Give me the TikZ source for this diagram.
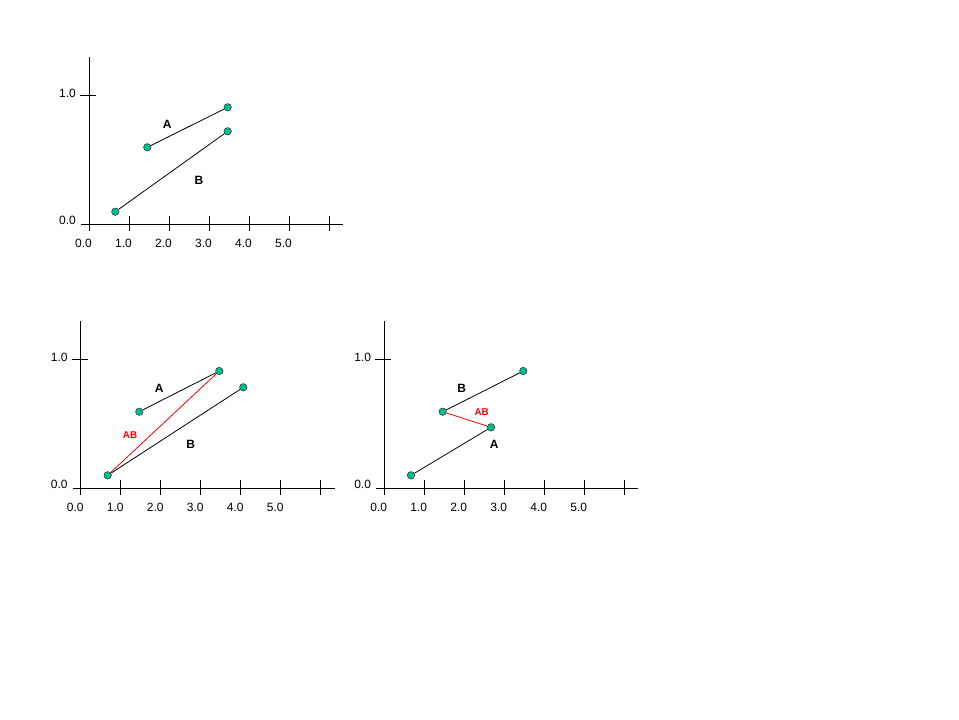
\documentclass[tikz,border=0pt]{standalone}
\usepackage{fontspec}
\setmainfont{Liberation Sans}
\begin{document}
\begin{tikzpicture}[x=0.75pt,y=-0.75pt,
  axis/.style={line width=0.75pt,black},
  tick/.style={line width=0.75pt,black},
  ticklab/.style={font=\fontsize{9}{10}\selectfont,inner sep=0pt},
  dot/.style={circle,draw=black!80,line width=0.4pt,fill=teal2,minimum size=5.6pt,inner sep=0pt},
  seg/.style={line width=0.6pt,black},
  abseg/.style={line width=0.6pt,red},
  lab/.style={font=\fontsize{9}{10}\bfseries\selectfont,inner sep=0pt},
  ablab/.style={font=\fontsize{7.4}{9}\bfseries\selectfont,text=red,inner sep=0pt}]
\definecolor{teal2}{RGB}{0,190,140}
\useasboundingbox (0,0) rectangle (959,719);
\fill[white] (0,0) rectangle (959,719);
% three axis frames
\foreach \ox/\oy/\nm in {89/224/p, 80.7/488.3/q, 384.3/488.3/r}{
  \begin{scope}[shift={(\ox,\oy)}]
    \coordinate (\nm yt) at (0,-167);
    \coordinate (\nm yb) at (0,7);
    \coordinate (\nm xl) at (-8,0);
    \coordinate (\nm xr) at (254,0);
    \draw[axis] (\nm yt) -- (\nm yb);
    \draw[axis] (\nm xl) -- (\nm xr);
    \foreach \k in {1,...,6}{
      \coordinate (\nm t\k a) at (40*\k,-8);
      \coordinate (\nm t\k b) at (40*\k,7);
      \draw[tick] (\nm t\k a) -- (\nm t\k b);
    }
    \coordinate (\nm ya) at (-9,-128.7);
    \coordinate (\nm yc) at (7,-128.7);
    \draw[tick] (\nm ya) -- (\nm yc);
    \node[ticklab] (\nm y1) at (-21.5,-131) {1.0};
    \node[ticklab] (\nm y0) at (-21.5,-3.5) {0.0};
    \foreach \k/\t in {0/0.0,1/1.0,2/2.0,3/3.0,4/4.0,5/5.0}{
      \node[ticklab] (\nm x\k) at (40*\k-5.5,19) {\t};
    }
  \end{scope}
}
% plot 1
\node[dot] (a1) at (147.3,147.3) {};
\node[dot] (a2) at (227.7,107.3) {};
\node[dot] (b1) at (115.3,211.7) {};
\node[dot] (b2) at (227.7,131.3) {};
\draw[seg] (a1) -- (a2);
\draw[seg] (b1) -- (b2);
\node[lab] (la) at (167.3,124) {A};
\node[lab] (lb) at (199,180) {B};
% plot 2
\node[dot] (c1) at (139.3,411.7) {};
\node[dot] (c2) at (219.3,371) {};
\node[dot] (d1) at (107.7,475.3) {};
\node[dot] (d2) at (243.3,387.3) {};
\draw[seg] (c1) -- (c2);
\draw[seg] (d1) -- (d2);
\draw[abseg] (d1) -- (c2);
\node[lab] (lc) at (159.3,388.3) {A};
\node[lab] (ld) at (190.7,444.3) {B};
\node[ablab] (lcd) at (130,435) {AB};
% plot 3
\node[dot] (e1) at (442.7,411.7) {};
\node[dot] (e2) at (523.3,371) {};
\node[dot] (f1) at (411,475.3) {};
\node[dot] (f2) at (491,427.3) {};
\draw[seg] (e1) -- (e2);
\draw[seg] (f1) -- (f2);
\draw[abseg] (e1) -- (f2);
\node[lab] (le) at (461.7,388.3) {B};
\node[ablab] (lef) at (481.7,411.7) {AB};
\node[lab] (lf) at (494.3,444.3) {A};
\end{tikzpicture}
\end{document}
